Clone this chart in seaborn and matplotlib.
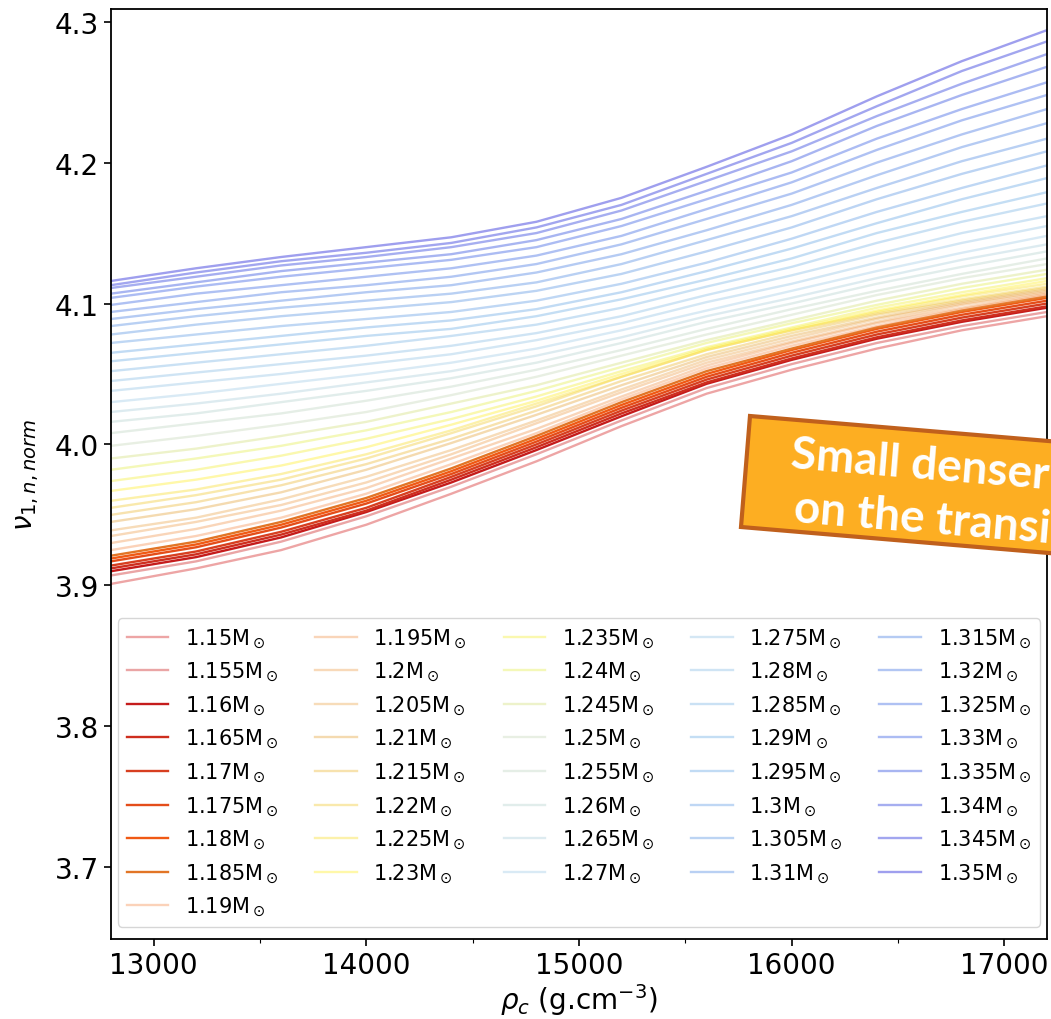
import numpy as np
import pandas as pd
import matplotlib
matplotlib.use("Agg")
import matplotlib.pyplot as plt
from matplotlib.colors import LinearSegmentedColormap
from matplotlib.patches import Polygon
from matplotlib.ticker import MultipleLocator
import seaborn as sns

# ---------------- data ----------------
rho_c = [12800, 13200, 13600, 14000, 14400, 14800, 15200, 15600, 16000, 16400, 16800, 17200]

masses = [1.15, 1.155, 1.16, 1.165, 1.17, 1.175, 1.18, 1.185, 1.19, 1.195,
          1.2, 1.205, 1.21, 1.215, 1.22, 1.225, 1.23, 1.235, 1.24, 1.245,
          1.25, 1.255, 1.26, 1.265, 1.27, 1.275, 1.28, 1.285, 1.29, 1.295,
          1.3, 1.305, 1.31, 1.315, 1.32, 1.325, 1.33, 1.335, 1.34, 1.345, 1.35]

nu_1150 = [3.901, 3.912, 3.925, 3.943, 3.965, 3.988, 4.013, 4.036, 4.053, 4.068, 4.081, 4.091]
nu_1155 = [3.907, 3.917, 3.931, 3.949, 3.970, 3.993, 4.017, 4.040, 4.057, 4.072, 4.084, 4.094]
nu_1160 = [3.910, 3.920, 3.934, 3.952, 3.973, 3.996, 4.020, 4.043, 4.060, 4.075, 4.087, 4.097]
nu_1165 = [3.912, 3.922, 3.936, 3.953, 3.975, 3.998, 4.022, 4.044, 4.061, 4.076, 4.088, 4.098]
nu_1170 = [3.914, 3.924, 3.938, 3.955, 3.977, 4.000, 4.024, 4.046, 4.063, 4.078, 4.090, 4.100]
nu_1175 = [3.917, 3.927, 3.941, 3.958, 3.979, 4.002, 4.026, 4.048, 4.065, 4.080, 4.092, 4.102]
nu_1180 = [3.919, 3.929, 3.943, 3.960, 3.981, 4.004, 4.028, 4.050, 4.067, 4.082, 4.094, 4.104]
nu_1185 = [3.921, 3.931, 3.945, 3.962, 3.983, 4.006, 4.030, 4.052, 4.068, 4.083, 4.095, 4.105]
nu_1190 = [3.925, 3.935, 3.948, 3.965, 3.986, 4.008, 4.032, 4.054, 4.070, 4.084, 4.096, 4.106]
nu_1195 = [3.930, 3.940, 3.953, 3.969, 3.990, 4.011, 4.034, 4.056, 4.072, 4.086, 4.097, 4.107]
nu_1200 = [3.935, 3.945, 3.957, 3.973, 3.993, 4.015, 4.037, 4.058, 4.073, 4.087, 4.099, 4.108]
nu_1205 = [3.939, 3.948, 3.961, 3.977, 3.996, 4.017, 4.039, 4.060, 4.075, 4.089, 4.100, 4.109]
nu_1210 = [3.945, 3.954, 3.966, 3.982, 4.001, 4.021, 4.042, 4.062, 4.077, 4.090, 4.101, 4.110]
nu_1215 = [3.950, 3.959, 3.971, 3.986, 4.004, 4.024, 4.045, 4.064, 4.079, 4.092, 4.102, 4.111]
nu_1220 = [3.955, 3.964, 3.975, 3.990, 4.008, 4.027, 4.048, 4.067, 4.081, 4.093, 4.103, 4.112]
nu_1225 = [3.960, 3.968, 3.979, 3.993, 4.010, 4.029, 4.048, 4.067, 4.081, 4.094, 4.105, 4.114]
nu_1230 = [3.967, 3.975, 3.985, 3.998, 4.014, 4.031, 4.050, 4.068, 4.082, 4.095, 4.106, 4.116]
nu_1235 = [3.974, 3.982, 3.992, 4.004, 4.018, 4.034, 4.052, 4.069, 4.083, 4.097, 4.108, 4.118]
nu_1240 = [3.982, 3.990, 3.999, 4.010, 4.023, 4.038, 4.055, 4.072, 4.086, 4.099, 4.111, 4.121]
nu_1245 = [3.990, 3.997, 4.006, 4.016, 4.029, 4.042, 4.058, 4.074, 4.088, 4.102, 4.114, 4.124]
nu_1250 = [3.999, 4.006, 4.014, 4.023, 4.035, 4.048, 4.063, 4.078, 4.092, 4.106, 4.118, 4.128]
nu_1255 = [4.008, 4.015, 4.022, 4.031, 4.041, 4.053, 4.067, 4.082, 4.096, 4.109, 4.121, 4.132]
nu_1260 = [4.016, 4.022, 4.030, 4.038, 4.047, 4.058, 4.072, 4.087, 4.100, 4.114, 4.126, 4.137]
nu_1265 = [4.023, 4.029, 4.036, 4.044, 4.052, 4.063, 4.076, 4.091, 4.104, 4.118, 4.131, 4.142]
nu_1270 = [4.030, 4.036, 4.043, 4.050, 4.058, 4.068, 4.081, 4.095, 4.109, 4.123, 4.136, 4.148]
nu_1275 = [4.038, 4.044, 4.050, 4.057, 4.064, 4.074, 4.086, 4.101, 4.114, 4.129, 4.143, 4.155]
nu_1280 = [4.045, 4.051, 4.057, 4.063, 4.070, 4.079, 4.091, 4.106, 4.120, 4.135, 4.150, 4.162]
nu_1285 = [4.052, 4.058, 4.064, 4.070, 4.077, 4.085, 4.097, 4.112, 4.126, 4.143, 4.158, 4.171]
nu_1290 = [4.059, 4.065, 4.071, 4.077, 4.082, 4.091, 4.103, 4.117, 4.132, 4.150, 4.165, 4.179]
nu_1295 = [4.065, 4.071, 4.077, 4.083, 4.088, 4.096, 4.108, 4.123, 4.139, 4.157, 4.174, 4.189]
nu_1300 = [4.072, 4.078, 4.084, 4.089, 4.094, 4.102, 4.114, 4.129, 4.146, 4.165, 4.182, 4.198]
nu_1305 = [4.078, 4.085, 4.091, 4.096, 4.101, 4.109, 4.121, 4.137, 4.154, 4.174, 4.192, 4.208]
nu_1310 = [4.084, 4.091, 4.097, 4.102, 4.107, 4.115, 4.128, 4.145, 4.162, 4.182, 4.201, 4.217]
nu_1315 = [4.089, 4.096, 4.102, 4.108, 4.113, 4.122, 4.135, 4.152, 4.170, 4.191, 4.211, 4.228]
nu_1320 = [4.094, 4.101, 4.108, 4.113, 4.119, 4.128, 4.142, 4.160, 4.178, 4.200, 4.220, 4.238]
nu_1325 = [4.099, 4.107, 4.113, 4.119, 4.125, 4.134, 4.148, 4.167, 4.186, 4.209, 4.230, 4.248]
nu_1330 = [4.104, 4.112, 4.119, 4.125, 4.131, 4.140, 4.155, 4.174, 4.193, 4.217, 4.238, 4.257]
nu_1335 = [4.107, 4.115, 4.123, 4.129, 4.135, 4.145, 4.160, 4.180, 4.201, 4.226, 4.248, 4.268]
nu_1340 = [4.111, 4.119, 4.127, 4.133, 4.140, 4.150, 4.166, 4.187, 4.208, 4.233, 4.256, 4.277]
nu_1345 = [4.113, 4.122, 4.130, 4.136, 4.143, 4.154, 4.170, 4.192, 4.214, 4.240, 4.265, 4.286]
nu_1350 = [4.116, 4.125, 4.133, 4.140, 4.147, 4.158, 4.175, 4.197, 4.220, 4.247, 4.272, 4.294]

series = [nu_1150, nu_1155, nu_1160, nu_1165, nu_1170, nu_1175, nu_1180, nu_1185,
          nu_1190, nu_1195, nu_1200, nu_1205, nu_1210, nu_1215, nu_1220, nu_1225,
          nu_1230, nu_1235, nu_1240, nu_1245, nu_1250, nu_1255, nu_1260, nu_1265,
          nu_1270, nu_1275, nu_1280, nu_1285, nu_1290, nu_1295, nu_1300, nu_1305,
          nu_1310, nu_1315, nu_1320, nu_1325, nu_1330, nu_1335, nu_1340, nu_1345,
          nu_1350]

highlight = [1.16, 1.165, 1.17, 1.175, 1.18, 1.185]

# ---------------- style ----------------
cmap = LinearSegmentedColormap.from_list("fan", [
    (0.00, "#d42020"), (0.05, "#c41c1c"), (0.10, "#d84020"), (0.15, "#f05a14"),
    (0.175, "#e07828"), (0.20, "#f59050"), (0.30, "#e8b050"), (0.40, "#fff040"),
    (0.45, "#e8f060"), (0.50, "#c8d8b8"), (0.60, "#a8d0e8"), (0.70, "#80b8e8"),
    (0.80, "#70a0e8"), (0.90, "#6080e8"), (1.00, "#5050e0")])

fig = plt.figure(figsize=(10.51, 10.20), dpi=100)
ax = fig.add_axes([111 / 1051, 80 / 1020, 936 / 1051, 930 / 1020])

n = len(masses)
for i, (m, vals) in enumerate(zip(masses, series)):
    df = pd.DataFrame({"rho": rho_c, "nu": vals})
    if m in highlight:
        alpha = 1.0
    elif 12 <= i <= 19:
        alpha = 0.45
    elif i <= 20:
        alpha = 0.4
    else:
        alpha = 0.4 + 0.15 * (i - 20) / 20
    label = f"{m:g}M$_\\odot$"
    sns.lineplot(data=df, x="rho", y="nu", ax=ax, color=cmap(i / (n - 1)),
                 alpha=alpha, lw=1.7, label=label)

ax.set_xlim(12800, 17200)
ax.set_ylim(3.649, 4.309)
ax.xaxis.set_major_locator(MultipleLocator(1000))
ax.xaxis.set_minor_locator(MultipleLocator(500))
ax.yaxis.set_major_locator(MultipleLocator(0.1))
ax.tick_params(axis="both", which="major", labelsize=20, length=5, width=1.2)
ax.tick_params(axis="x", which="minor", length=3, width=0.8)
for s in ax.spines.values():
    s.set_linewidth(1.3)

ax.set_xlabel(r"$\rho_c$ (g.cm$^{-3}$)", fontsize=20, labelpad=2)
ax.set_ylabel(r"$\nu_{1,n,norm}$", fontsize=20, labelpad=10)

leg = ax.legend(ncol=5, loc="lower center", fontsize=15, borderaxespad=0.6,
                columnspacing=1.75, handlelength=2.0, labelspacing=0.5)

# ---------------- annotation box ----------------
def fx(px):
    return px / 1051

def fy(py):
    return 1 - py / 1020

poly = Polygon([(fx(750), fy(417)), (fx(1120), fy(448)), (fx(1120), fy(560)), (fx(741), fy(528))],
               closed=True, transform=fig.transFigure, facecolor="#FDAE22",
               edgecolor="#C0601C", linewidth=3, zorder=10, clip_on=False)
fig.patches.append(poly)

fig.text(fx(790), fy(468), "Small denser cores", transform=fig.transFigure,
         fontsize=33, fontweight="bold", family="Lato", color="white",
         rotation=-4.7, rotation_mode="anchor", ha="left", va="baseline", zorder=11)
fig.text(fx(793), fy(522), "on the transition", transform=fig.transFigure,
         fontsize=33, fontweight="bold", family="Lato", color="white",
         rotation=-4.7, rotation_mode="anchor", ha="left", va="baseline", zorder=11)

fig.savefig("out.png", dpi=100)
